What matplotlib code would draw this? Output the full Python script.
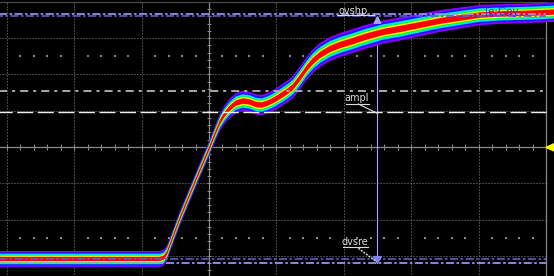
"""
Captura de osciloscopio: flanco de subida en modo persistencia (colores por densidad),
con cursores de medida ovshp / ampl / base.
"""

import numpy as np
import matplotlib.pyplot as plt
from matplotlib.patches import Polygon

plt.rcParams['lines.scale_dashes'] = False
plt.rcParams['font.family'] = ['DejaVu Sans']

# ── Datos (en divisiones de pantalla) ─────────────────────────────────────────
t_div = [-3.11, -0.727, -0.668, -0.623, -0.579, -0.519, -0.430, -0.282, -0.134,
         0.000, 0.089, 0.163, 0.237, 0.312, 0.401, 0.504, 0.608, 0.697, 0.786,
         0.875, 0.979, 1.083, 1.172, 1.246, 1.350, 1.454, 1.543, 1.647, 1.795,
         1.944, 2.092, 2.315, 2.582, 2.834, 3.131, 3.427, 3.724, 4.021, 4.318,
         4.807, 5.13]
v_div = [-3.085, -3.085, -3.044, -2.920, -2.700, -2.397, -1.956, -1.295, -0.634,
         -0.055, 0.358, 0.689, 0.909, 1.074, 1.212, 1.267, 1.240, 1.171, 1.157,
         1.212, 1.309, 1.433, 1.543, 1.653, 1.901, 2.176, 2.369, 2.534, 2.700,
         2.810, 2.893, 3.030, 3.168, 3.251, 3.361, 3.471, 3.554, 3.636, 3.664,
         3.691, 3.719]
spread = [0.22, 0.22, 0.22, 0.21, 0.20, 0.20, 0.20, 0.20, 0.20,
          0.21, 0.22, 0.24, 0.26, 0.27, 0.28, 0.28, 0.28, 0.28, 0.28,
          0.28, 0.29, 0.30, 0.30, 0.31, 0.32, 0.32, 0.33, 0.33, 0.33,
          0.33, 0.33, 0.33, 0.32, 0.32, 0.31, 0.30, 0.29, 0.28, 0.27,
          0.27, 0.27]

# capas de persistencia: fracción del ancho y color
layer_frac   = [1.00, 0.82, 0.66, 0.52, 0.40, 0.27]
layer_colors = ['#8c00ff', '#1414ff', '#00e8ff', '#00ff30', '#ffff00', '#ff0000']

# niveles de medida (div)
top_levels  = [3.656, 3.598]
base_levels = [-3.094, -3.204]
ampl_hi     = 1.54
ampl_mid    = 0.96
cursor_t    = 2.50

labels = {'ovshp': (2.144, 3.75), 'ampl': (2.196, 1.35), 'dvsre': (2.171, -2.617)}

# ── Figura ────────────────────────────────────────────────────────────────────
fig = plt.figure(figsize=(5.54, 2.76), dpi=100, facecolor='black')
ax = fig.add_axes([0, 0, 1, 1])
ax.set_xlim(-3.101, 5.119)
ax.set_ylim(-3.554, 4.050)
ax.set_axis_off()

XL = -3.2
grid_c = '#8a8a8a'

# retícula punteada
for gx in [-3, -2, -1, 1, 2, 3, 4]:
    ax.plot([gx, gx], [-3.7, 4.0], color=grid_c, lw=0.72, ls=(0, (0.72, 1.44)), zorder=1)
for gy in [-3, -2, -1, 1, 2, 3]:
    ax.plot([XL, 5], [gy, gy], color=grid_c, lw=0.72, ls=(0, (0.72, 1.44)), zorder=1)

# ejes centrales, borde
ax.plot([XL, 5], [0, 0], color=grid_c, lw=0.9, zorder=1)
ax.plot([0, 0], [-3.7, 4.0], color=grid_c, lw=0.9, zorder=1)
ax.plot([5, 5], [-3.7, 4.0], color=grid_c, lw=0.9, zorder=1)
ax.plot([XL, 5], [4, 4], color='#4a4a4a', lw=0.9, zorder=1)

ticks_x = np.round(np.arange(-3.0, 5.0, 0.2), 1)
ticks_y = np.round(np.arange(-3.6, 4.0, 0.2), 1)
ax.vlines(ticks_x, -0.069, 0.069, color=grid_c, lw=0.72, zorder=1)
ax.hlines(ticks_y, -0.037, 0.037, color=grid_c, lw=0.72, zorder=1)
half = [t for t in ticks_x if abs(t - round(t)) > 0.05]
for yy in [2.5, -2.5]:
    ax.scatter(half, [yy] * len(half), s=0.6, marker='s', color=grid_c, lw=0, zorder=1)

# cursor vertical
ax.plot([cursor_t, cursor_t], [-3.20, 3.59], color='#a4a4ff', lw=0.8, zorder=2)

# traza en persistencia
t = np.array(t_div)
v = np.array(v_div)
s = np.array(spread)
for frac, col in zip(layer_frac, layer_colors):
    ax.fill_between(t, v - s * frac, v + s * frac, color=col, lw=0, zorder=3)

# líneas de medida
ax.plot([XL, 5], [ampl_hi, ampl_hi], color='#a8a8a8', lw=1.4,
        ls=(0, (5.8, 3.6, 2.2, 3.6)), zorder=4)
ax.plot([XL, 5], [ampl_mid, ampl_mid], color='#f0f0f0', lw=1.0,
        ls=(2, (11.5, 3.3)), zorder=4)
ax.plot([XL, 5], [top_levels[0], top_levels[0]], color='#9a9aff', lw=1.2,
        ls=(0, (5.8, 1.8, 1.8, 1.8)), zorder=4)
ax.plot([XL, 5], [top_levels[1], top_levels[1]], color='#5c5cd0', lw=1.2,
        ls=(3, (5.8, 1.8, 1.8, 1.8)), zorder=4)
ax.plot([XL, 5], [base_levels[0], base_levels[0]], color='#5c5cc8', lw=1.2,
        ls=(0, (5.8, 1.8, 1.8, 1.8)), zorder=4)
ax.plot([XL, 5], [base_levels[1], base_levels[1]], color='#a0a0ff', lw=1.2,
        ls=(3, (5.8, 1.8, 1.8, 1.8)), zorder=4)

# flechas del cursor
ax.add_patch(Polygon([[cursor_t, 3.59], [cursor_t - 0.049, 3.41], [cursor_t + 0.049, 3.41]],
                     closed=True, color='#a4a4ff', zorder=5))
ax.add_patch(Polygon([[cursor_t, -3.20], [cursor_t - 0.06, -3.02], [cursor_t + 0.06, -3.02]],
                     closed=True, color='#8080f0', zorder=5))

# etiquetas con subrayado y guía
txt_c = '#dcdcdc'
for name, (lx, ly) in labels.items():
    ax.text(lx, ly, name, color=txt_c, fontsize=7, ha='center', va='center', zorder=6)
ax.plot([1.90, 2.45], [3.636, 3.636], color=txt_c, lw=0.8, zorder=6)
ax.plot([2.04, 2.37], [1.185, 1.185], color=txt_c, lw=0.8, zorder=6)
ax.plot([2.215, 2.497], [1.185, 0.928], color=txt_c, lw=0.8, zorder=6)
ax.plot([1.984, 2.364], [-2.763, -2.763], color=txt_c, lw=0.8, zorder=6)
ax.plot([2.215, 2.488], [-2.79, -3.16], color=txt_c, lw=1.0, ls=(0, (1.5, 0.8)), zorder=6)

# etiqueta azul del canal
ax.text(4.35, 3.72, 'le:Goy', color='#3030ff', fontsize=7.5, ha='center', va='center', zorder=6)

# marcador de nivel de disparo
ax.add_patch(Polygon([[5.0, -0.01], [5.12, 0.09], [5.12, -0.11]], closed=True,
                     color='#ffff00', zorder=6))

fig.savefig('out.png', dpi=100, facecolor='black')
